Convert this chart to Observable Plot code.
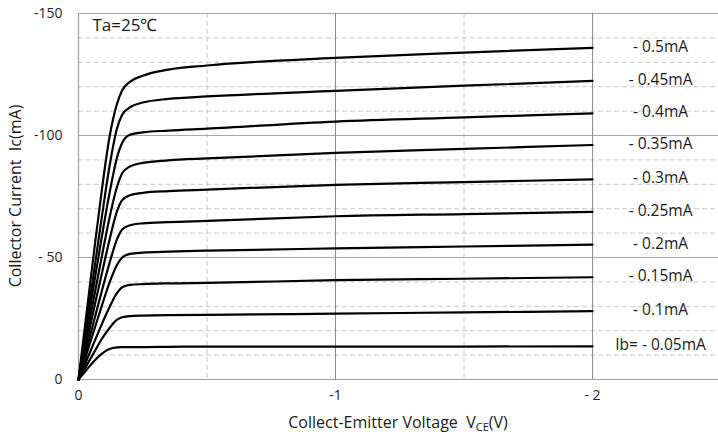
<!DOCTYPE html>
<html><head><meta charset="utf-8">
<script src="https://cdn.jsdelivr.net/npm/d3@7"></script>
<script src="https://cdn.jsdelivr.net/npm/@observablehq/plot@0.6"></script>
<style>body{margin:0;background:#fff} svg{display:block}</style>
</head><body><div id="chart"></div>
<script>
// Collector-emitter voltage sample points (V)
const vce = [0, -0.03, -0.06, -0.09, -0.12, -0.15, -0.17, -0.2, -0.25, -0.35, -0.5, -1, -1.5, -2];
// Collector current (mA) per base current curve
const ic005 = [0, -3.8, -7.5, -10.5, -12.5, -13.2, -13.3, -13.3, -13.3, -13.4, -13.5, -13.5, -13.5, -13.6];
const ic010 = [0, -5.5, -11, -16.5, -21, -24.5, -25.5, -26, -26.2, -26.4, -26.5, -27, -27.5, -28];
const ic015 = [0, -7.5, -15, -22.5, -29.5, -35.5, -37.8, -38.8, -39.1, -39.4, -39.6, -40.7, -41.3, -41.9];
const ic020 = [0, -10, -20, -30, -39.5, -47, -50, -51.5, -52, -52.4, -52.8, -53.7, -54.5, -55.3];
const ic025 = [0, -12, -24, -36, -47.5, -57.5, -61.5, -63.2, -64, -64.5, -65, -66.9, -67.8, -68.7];
const ic030 = [0, -14.5, -29, -43, -57, -69, -73.5, -75.5, -76.5, -77.2, -77.8, -79.8, -80.9, -82];
const ic035 = [0, -17, -33.5, -50, -66, -79, -84.5, -87.3, -88.8, -89.8, -90.6, -92.9, -94.5, -96.1];
const ic040 = [0, -19.5, -39, -58, -76, -91, -97, -100.3, -101.3, -102, -102.8, -105.7, -107.4, -109.1];
const ic045 = [0, -22, -44, -66, -87, -103, -108.5, -111.5, -113.5, -115, -116, -118.3, -120.4, -122.4];
const ic050 = [0, -26, -52, -77, -99, -113, -118.5, -122, -124.5, -127, -128.7, -131.8, -134, -135.9];
const curves = [ic005, ic010, ic015, ic020, ic025, ic030, ic035, ic040, ic045, ic050];
const curveLabels = ["Ib= - 0.05mA", "- 0.1mA", "- 0.15mA", "- 0.2mA", "- 0.25mA", "- 0.3mA", "- 0.35mA", "- 0.4mA", "- 0.45mA", "- 0.5mA"];

const yTicks = [0, -50, -100, -150];
const yTickLabels = ["0", "- 50", "-100", "-150"];
const xTicks = [0, -1, -2];
const xTickLabels = ["0", "-1", "- 2"];
const minorY = [-10, -20, -30, -40, -60, -70, -80, -90, -110, -120, -130, -140];
const majorY = [-50, -100, -150];
const minorX = [-0.5, -1.5];
const majorX = [-1, -2];

const rows = [];
curves.forEach((arr, k) => arr.forEach((ic, i) => rows.push({v: vce[i], ic, ib: curveLabels[k]})));
const labelRows = curves.map((arr, k) => ({v: vce[vce.length - 1], ic: arr[arr.length - 1], label: curveLabels[k]}));

const FONT = "Open Sans";
const chart = Plot.plot({
  width: 718, height: 439,
  marginLeft: 78, marginRight: 0, marginTop: 13, marginBottom: 60,
  style: {fontFamily: FONT, fontSize: "14px", color: "#262626", background: "#fff"},
  x: {domain: [0, -2.49]},
  y: {domain: [0, -150]},
  marks: [
    Plot.ruleY(minorY, {stroke: "#c8c8c8", strokeDasharray: "5,3", strokeWidth: 1}),
    Plot.ruleX(minorX, {stroke: "#c8c8c8", strokeDasharray: "5,3", strokeWidth: 1}),
    Plot.ruleY(majorY, {stroke: "#a8a8a8", strokeWidth: 1.2}),
    Plot.ruleX(majorX, {stroke: "#8a8a8a", strokeWidth: 1}),
    Plot.ruleY([0], {stroke: "#a0a0a0", strokeWidth: 1.2}),
    Plot.ruleX([0], {stroke: "#a0a0a0", strokeWidth: 1.2}),
    Plot.line(rows, {x: "v", y: "ic", z: "ib", stroke: "#000", strokeWidth: 2.2, curve: "monotone-x"}),
    Plot.text(labelRows, {x: "v", y: "ic", text: "label", dx: 68, dy: -1, textAnchor: "middle", fontSize: 15.5, fill: "#1a1a1a"}),
    Plot.text(["Ta=25℃"], {frameAnchor: "top-left", dx: 14, dy: 5, textAnchor: "start", lineAnchor: "top", fontSize: 17, fill: "#1a1a1a"}),
    Plot.axisY(yTicks, {tickSize: 0, tickPadding: 16, tickFormat: d => yTickLabels[yTicks.indexOf(d)], label: null, fontSize: 14}),
    Plot.axisX(xTicks, {tickSize: 0, tickPadding: 11, tickFormat: d => xTickLabels[xTicks.indexOf(d)], label: null, fontSize: 14})
  ]
});
document.getElementById("chart").appendChild(chart);

// Axis titles
const svg = d3.select(chart);
const xs = chart.scale("x"), ys = chart.scale("y");
const cy = (ys.apply(-150) + ys.apply(0)) / 2;
svg.append("text")
  .attr("transform", `translate(17,${cy}) rotate(-90)`)
  .attr("text-anchor", "middle").attr("dominant-baseline", "middle")
  .style("white-space", "pre").attr("font-size", 16).attr("fill", "#1a1a1a")
  .text("Collector Current  Ic(mA)");
const xt = svg.append("text")
  .attr("x", (xs.apply(0) + xs.apply(-2.49)) / 2).attr("y", 428)
  .attr("text-anchor", "middle").style("white-space", "pre").attr("font-size", 16).attr("fill", "#1a1a1a");
xt.append("tspan").text("Collect-Emitter Voltage  V");
xt.append("tspan").attr("font-size", 11).attr("dy", 3).text("CE");
xt.append("tspan").attr("dy", -3).text("(V)");
</script>
</body></html>
